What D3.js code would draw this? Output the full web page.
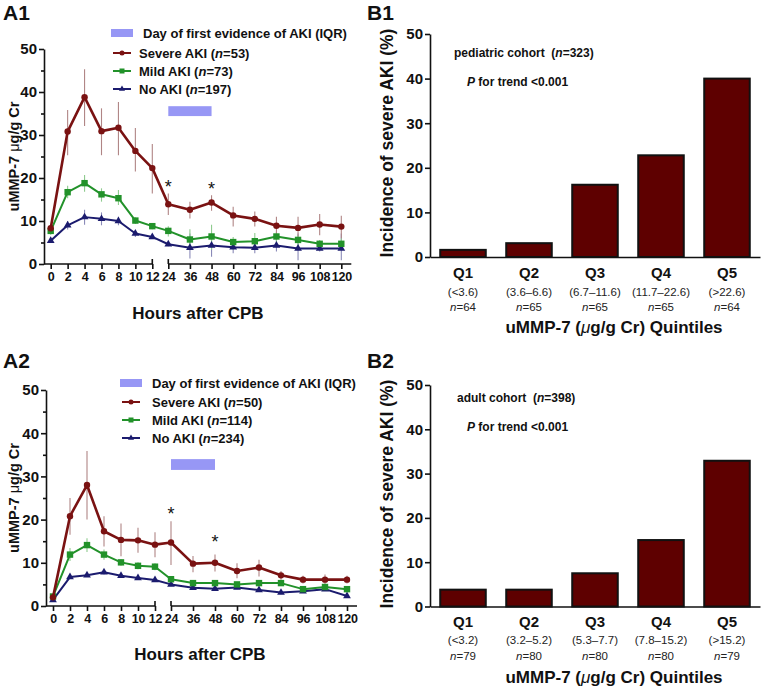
<!DOCTYPE html>
<html><head><meta charset="utf-8">
<script src="https://cdn.jsdelivr.net/npm/d3@7"></script>
<style>body{margin:0;background:#fff} svg{display:block;font-family:"Liberation Sans",Arial,Helvetica,sans-serif}</style>
</head><body><svg id="c" width="762" height="688"></svg>
<script>
// ---------- DATA ----------
const hours = [0,2,4,6,8,10,12,24,36,48,60,72,84,96,108,120];
const yTicks = [0,10,20,30,40,50];
const yMinorTicks = [5,15,25,35,45];

// A1 pediatric
const a1Severe   = [8.3,30.8,38.8,30.9,31.7,26.3,22.3,13.9,12.6,14.3,11.3,10.5,8.9,8.4,9.2,8.7];
const a1SevereLo = [7.5,25.3,32.1,25.3,25.3,21.5,16.4,11.4,10.6,12.4,8.7,8.7,7.1,6.4,6.7,6.0];
const a1SevereHi = [9.0,35.8,45.3,36.2,37.7,31.6,27.9,16.4,14.5,16.0,13.3,12.2,11.0,11.0,11.6,11.2];
const a1Mild     = [7.7,16.7,18.8,16.2,15.3,10.1,8.8,7.7,5.7,6.4,5.1,5.3,6.4,5.6,4.7,4.7];
const a1MildLo   = [6.8,15.3,16.8,14.5,13.7,9.3,8.1,6.4,3.3,3.3,3.3,3.3,4.8,4.0,3.6,3.3];
const a1MildHi   = [8.6,18.2,20.7,17.6,17.2,10.9,9.5,8.8,8.1,9.1,6.3,7.2,7.5,6.7,5.6,6.0];
const a1None     = [5.4,9.0,10.9,10.5,10.0,7.1,6.3,4.6,3.8,4.3,3.9,3.8,4.3,3.6,3.6,3.6];
const a1NoneLo   = [4.9,8.0,9.1,9.0,9.0,6.3,5.8,4.1,1.3,1.7,2.5,2.5,2.9,0.9,2.9,0.9];
const a1NoneHi   = [5.9,10.0,12.6,12.0,11.0,7.9,6.8,5.1,7.1,6.7,5.6,5.3,6.0,7.1,4.3,7.1];
const a1Legend   = ["Severe AKI (", "n", "=53)", "Mild AKI (", "n", "=73)", "No AKI (", "n", "=197)"];
const a1IQR      = [24,48,34.4,36.7];
const a1SigHours = [24,48];
const a1SigY     = [18.8,18.4];

// A2 adult
const a2Severe   = [2.0,20.8,28.0,17.3,15.3,15.2,14.2,14.7,9.8,10.0,8.1,8.9,7.1,6.1,6.1,6.1];
const a2SevereLo = [1.6,16.5,20.0,13.8,11.5,12.3,11.3,9.5,7.8,8.0,6.4,6.8,6.1,5.2,4.9,5.2];
const a2SevereHi = [2.4,25.0,35.9,20.8,19.1,18.1,17.1,19.6,11.6,11.9,9.9,10.7,8.1,7.0,7.3,7.0];
const a2Mild     = [2.2,11.9,14.1,11.9,10.1,9.3,9.1,6.2,5.3,5.3,5.0,5.3,5.3,3.9,4.4,3.9];
const a2MildLo   = [1.8,10.4,12.5,10.7,9.3,8.5,8.3,5.6,4.8,4.8,4.5,4.8,4.8,3.4,3.9,3.4];
const a2MildHi   = [2.6,13.4,15.7,13.1,10.9,10.1,9.9,6.8,5.8,5.8,5.5,5.8,5.8,4.4,4.9,4.4];
const a2None     = [1.4,6.7,7.1,7.8,7.0,6.5,6.0,5.0,4.2,4.0,4.3,3.7,3.1,3.4,3.9,2.3];
const a2NoneLo   = [1.0,6.3,6.7,7.3,6.6,6.1,5.6,4.6,3.8,3.6,3.9,3.3,2.7,3.0,3.5,1.9];
const a2NoneHi   = [1.8,7.1,7.5,8.3,7.4,6.9,6.4,5.4,4.6,4.4,4.7,4.1,3.5,3.8,4.3,2.7];
const a2Legend   = ["Severe AKI (", "n", "=50)", "Mild AKI (", "n", "=114)", "No AKI (", "n", "=234)"];
const a2IQR      = [24,48,31.5,34.0];
const a2SigHours = [24,48];
const a2SigY     = [22.2,15.8];

// B panels
const quintiles    = ["Q1","Q2","Q3","Q4","Q5"];
const b1Ranges     = ["(<3.6)","(3.6–6.6)","(6.7–11.6)","(11.7–22.6)","(>22.6)"];
const b1N          = [64,65,65,65,64];
const b1Incidence  = [1.6,3.1,16.2,22.8,40.0];
const b2Ranges     = ["(<3.2)","(3.2–5.2)","(5.3–7.7)","(7.8–15.2)","(>15.2)"];
const b2N          = [79,80,80,80,79];
const b2Incidence  = [3.8,3.8,7.5,15.0,32.9];

// ---------- STYLE ----------
const C = {
  severe: "#7a1212", severeErr: "#b08585",
  mild: "#22922a", mildErr: "#8fcb8f",
  none: "#1b1b6e", noneErr: "#8a8ab8",
  iqr: "#9797f5", bar: "#5e0000", ink: "#111"
};
const svg = d3.select("#c");

function styleAxis(sel, fs) {
  sel.selectAll("path,line").attr("stroke", C.ink).attr("stroke-width", 1.6);
  sel.selectAll("text").attr("font-size", fs).attr("font-weight", "bold")
     .attr("fill", C.ink).attr("font-family", '"Liberation Sans",Arial,sans-serif');
}

function nText(g, x, y, parts, fs, weight) {
  const t = g.append("text").attr("x", x).attr("y", y).attr("font-size", fs)
    .attr("font-weight", weight).attr("fill", C.ink);
  t.append("tspan").text(parts[0]);
  t.append("tspan").attr("font-style", "italic").text(parts[1]);
  t.append("tspan").text(parts[2]);
  return t;
}

function linePanel(o) {
  const g = svg.append("g");
  const x = d3.scaleLinear().domain([0,12,24,120]).range(o.xRange);
  const y = d3.scaleLinear().domain([0,50]).range(o.yRange);
  const y0 = y(0);

  // y axis
  const ya = g.append("g").attr("transform", `translate(${o.axisX},0)`)
    .call(d3.axisLeft(y).tickValues(yTicks).tickSize(5).tickPadding(2).tickSizeOuter(0));
  styleAxis(ya, 15);
  const ym = g.append("g").attr("transform", `translate(${o.axisX},0)`)
    .call(d3.axisLeft(y).tickValues(yMinorTicks).tickSize(3).tickFormat(""));
  ym.select(".domain").remove();
  styleAxis(ym, 15);

  // x axis (broken)
  const xa = g.append("g").attr("transform", `translate(0,${y0})`)
    .call(d3.axisBottom(x).tickValues(hours).tickSize(5).tickPadding(3));
  xa.select(".domain").remove();
  styleAxis(xa, 12.5);
  xa.selectAll("text").attr("letter-spacing", "-0.2");
  const segs = [[o.axisX, x(12)], [x(24), x(120) + 10]];
  segs.forEach(s => g.append("line").attr("x1", s[0]).attr("x2", s[1]).attr("y1", y0).attr("y2", y0)
    .attr("stroke", C.ink).attr("stroke-width", 1.6));
  [12, 24].forEach(h => g.append("line").attr("x1", x(h)).attr("x2", x(h)).attr("y1", y0 - 5).attr("y2", y0)
    .attr("stroke", C.ink).attr("stroke-width", 1.6));

  // IQR rect
  g.append("rect").attr("x", x(o.iqr[0])).attr("width", x(o.iqr[1]) - x(o.iqr[0]))
    .attr("y", y(o.iqr[3])).attr("height", y(o.iqr[2]) - y(o.iqr[3])).attr("fill", C.iqr);

  const series = [
    {v: o.none, lo: o.noneLo, hi: o.noneHi, c: C.none, e: C.noneErr, m: "tri"},
    {v: o.mild, lo: o.mildLo, hi: o.mildHi, c: C.mild, e: C.mildErr, m: "sq"},
    {v: o.severe, lo: o.severeLo, hi: o.severeHi, c: C.severe, e: C.severeErr, m: "circ"}
  ];
  // error bars
  series.forEach(s => {
    g.append("g").selectAll("line").data(hours).join("line")
      .attr("x1", h => x(h)).attr("x2", h => x(h))
      .attr("y1", (h, i) => y(s.lo[i])).attr("y2", (h, i) => y(s.hi[i]))
      .attr("stroke", s.e).attr("stroke-width", 1.1);
  });
  const tri = d3.symbol().type(d3.symbolTriangle).size(26);
  function marker(sel, m, c) {
    if (m === "circ") sel.append("circle").attr("r", 3.2).attr("fill", c);
    else if (m === "sq") sel.append("rect").attr("x", -3.2).attr("y", -3.2).attr("width", 6.4).attr("height", 6.4).attr("fill", c);
    else sel.append("path").attr("d", tri).attr("fill", c);
  }
  series.forEach(s => {
    const line = d3.line().x((d, i) => x(hours[i])).y(d => y(d));
    g.append("path").datum(s.v).attr("d", line).attr("fill", "none")
      .attr("stroke", s.c).attr("stroke-width", s.m === "circ" ? 2.6 : 2).attr("stroke-linejoin", "round");
    g.append("g").selectAll("g").data(s.v).join("g")
      .attr("transform", (d, i) => `translate(${x(hours[i])},${y(d)})`)
      .each(function () { marker(d3.select(this), s.m, s.c); });
  });

  // significance asterisks
  o.sigHours.forEach((h, i) => g.append("text").attr("x", x(h)).attr("y", y(o.sigY[i]) + 10)
    .attr("text-anchor", "middle").attr("font-size", 18).attr("fill", C.ink).text("*"));

  // legend
  const L = o.leg;
  g.append("rect").attr("x", L.x).attr("y", L.rows[0] - 4).attr("width", 22).attr("height", 8).attr("fill", C.iqr);
  g.append("text").attr("x", L.x + L.t0).attr("y", L.rows[0] + 4.5).attr("font-size", 13)
    .attr("font-weight", "bold").attr("fill", C.ink).text("Day of first evidence of AKI (IQR)");
  const legSeries = [series[2], series[1], series[0]];
  legSeries.forEach((s, k) => {
    const cy = L.rows[k + 1];
    g.append("line").attr("x1", L.x + 2).attr("x2", L.x + 20).attr("y1", cy).attr("y2", cy)
      .attr("stroke", s.c).attr("stroke-width", 2);
    const mg = g.append("g").attr("transform", `translate(${L.x + 11},${cy})`);
    if (s.m === "circ") mg.append("circle").attr("r", 2.5).attr("fill", s.c);
    else if (s.m === "sq") mg.append("rect").attr("x", -2.5).attr("y", -2.5).attr("width", 5).attr("height", 5).attr("fill", s.c);
    else mg.append("path").attr("d", d3.symbol().type(d3.symbolTriangle).size(16)).attr("fill", s.c);
    nText(g, L.x + L.t1, cy + 4.5, o.legend.slice(k * 3, k * 3 + 3), 13, "bold");
  });

  // labels
  g.append("text").attr("x", 3).attr("y", o.labelY).attr("font-size", 21).attr("font-weight", "bold")
    .attr("fill", C.ink).text(o.label);
  const yl = g.append("text").attr("transform", `translate(19,${(o.yRange[0] + o.yRange[1]) / 2}) rotate(-90)`)
    .attr("text-anchor", "middle").attr("font-size", 14.5).attr("font-weight", "bold").attr("fill", C.ink);
  yl.append("tspan").text("uMMP-7 ");
  yl.append("tspan").attr("font-weight", "normal").text("μ");
  yl.append("tspan").text("g/g Cr");
  g.append("text").attr("x", o.titleX).attr("y", o.titleY).attr("text-anchor", "middle")
    .attr("font-size", 17).attr("font-weight", "bold").attr("fill", C.ink).text("Hours after CPB");
}

function barPanel(o) {
  const g = svg.append("g");
  const x = d3.scaleBand().domain(quintiles).range([o.axisX, 760]).paddingInner(0.31).paddingOuter(0.155);
  const y = d3.scaleLinear().domain([0,50]).range(o.yRange);
  const y0 = y(0);
  g.selectAll("rect.bar").data(o.values).join("rect").attr("class", "bar")
    .attr("x", (d, i) => x(quintiles[i])).attr("width", x.bandwidth())
    .attr("y", d => y(d)).attr("height", d => y0 - y(d))
    .attr("fill", C.bar).attr("stroke", C.ink).attr("stroke-width", 2);
  const ya = g.append("g").attr("transform", `translate(${o.axisX},0)`)
    .call(d3.axisLeft(y).tickValues(yTicks).tickSize(5).tickPadding(2).tickSizeOuter(0));
  styleAxis(ya, 15);
  const xa = g.append("g").attr("transform", `translate(0,${y0})`)
    .call(d3.axisBottom(x).tickSize(0).tickPadding(10).tickSizeOuter(0));
  styleAxis(xa, 15);
  xa.selectAll("text").attr("dy", 0).attr("y", o.qY - y0);
  quintiles.forEach((q, i) => {
    const cx = x(q) + x.bandwidth() / 2;
    g.append("text").attr("x", cx).attr("y", o.rY).attr("text-anchor", "middle").attr("font-size", 11.5)
      .attr("fill", "#222").text(o.ranges[i]);
    const t = g.append("text").attr("x", cx).attr("y", o.nY).attr("text-anchor", "middle").attr("font-size", 11.5).attr("fill", "#222");
    t.append("tspan").attr("font-style", "italic").text("n");
    t.append("tspan").text("=" + o.n[i]);
  });
  const tt = g.append("text").attr("x", 614).attr("y", o.titleY).attr("text-anchor", "middle")
    .attr("font-size", 17).attr("font-weight", "bold").attr("fill", C.ink);
  tt.append("tspan").text("uMMP-7 (");
  tt.append("tspan").attr("font-style", "italic").attr("font-weight", "normal").text("μ");
  tt.append("tspan").text("g/g Cr) Quintiles");
  g.append("text").attr("transform", `translate(393,${o.ylabY}) rotate(-90)`).attr("text-anchor", "middle")
    .attr("font-size", 17.5).attr("font-weight", "bold").attr("fill", C.ink).text("Incidence of severe AKI (%)");
  g.append("text").attr("x", 367).attr("y", o.labelY).attr("font-size", 21).attr("font-weight", "bold")
    .attr("fill", C.ink).text(o.label);
  const a = g.append("text").attr("x", o.annX).attr("y", o.annY).attr("font-size", 12).attr("font-weight", "bold").attr("fill", C.ink);
  a.append("tspan").text(o.cohort[0]);
  a.append("tspan").attr("font-style", "italic").text(o.cohort[1]);
  a.append("tspan").text(o.cohort[2]);
  const p = g.append("text").attr("x", 467).attr("y", o.annY + 29).attr("font-size", 12).attr("font-weight", "bold").attr("fill", C.ink);
  p.append("tspan").attr("font-style", "italic").text("P");
  p.append("tspan").text(" for trend <0.001");
}

linePanel({
  label: "A1", labelY: 20, axisX: 44, xRange: [50.7,152.3,168.3,341.3], yRange: [264,49],
  severe: a1Severe, severeLo: a1SevereLo, severeHi: a1SevereHi,
  mild: a1Mild, mildLo: a1MildLo, mildHi: a1MildHi,
  none: a1None, noneLo: a1NoneLo, noneHi: a1NoneHi,
  legend: a1Legend, iqr: a1IQR, sigHours: a1SigHours, sigY: a1SigY,
  leg: {x: 111, t0: 32, t1: 28, rows: [33,53,71,89]},
  titleX: 198, titleY: 319
});
linePanel({
  label: "A2", labelY: 368, axisX: 46, xRange: [53,155,171,347], yRange: [606,390],
  severe: a2Severe, severeLo: a2SevereLo, severeHi: a2SevereHi,
  mild: a2Mild, mildLo: a2MildLo, mildHi: a2MildHi,
  none: a2None, noneLo: a2NoneLo, noneHi: a2NoneHi,
  legend: a2Legend, iqr: a2IQR, sigHours: a2SigHours, sigY: a2SigY,
  leg: {x: 120, t0: 32, t1: 32, rows: [383,402,420,438]},
  titleX: 200, titleY: 660
});
barPanel({
  label: "B1", labelY: 20, axisX: 430, yRange: [257,34], values: b1Incidence, ranges: b1Ranges, n: b1N,
  qY: 278, rY: 295.5, nY: 310.5, titleY: 332.5, ylabY: 143,
  annX: 454, annY: 57, cohort: ["pediatric cohort\u00a0 (", "n", "=323)"]
});
barPanel({
  label: "B2", labelY: 368, axisX: 430, yRange: [606.5,385], values: b2Incidence, ranges: b2Ranges, n: b2N,
  qY: 626.5, rY: 644, nY: 660, titleY: 682.5, ylabY: 494,
  annX: 457, annY: 402, cohort: ["adult cohort\u00a0 (", "n", "=398)"]
});
</script></body></html>
